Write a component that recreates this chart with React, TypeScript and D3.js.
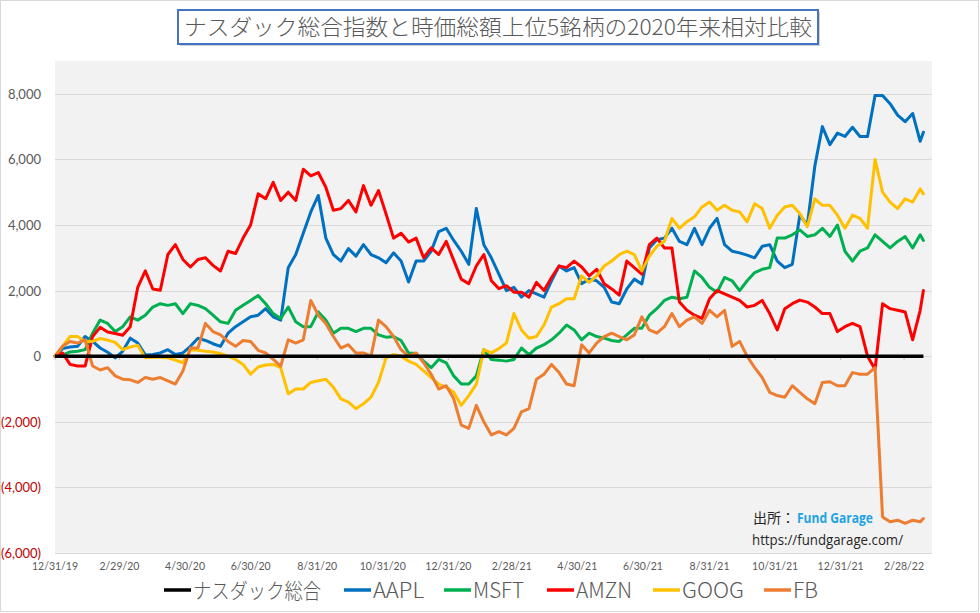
import React from "react";
import * as d3 from "d3";

const W = 980;
const H = 613;

// weekly closes from 12/31/19, last point 3/18/22
const START = "2019-12-31";
const LAST = "2022-03-18";
const STEP_DAYS = 7;

const TICK_DATES = [
  "2019-12-31", "2020-02-29", "2020-04-30", "2020-06-30", "2020-08-31", "2020-10-31", "2020-12-31",
  "2021-02-28", "2021-04-30", "2021-06-30", "2021-08-31", "2021-10-31", "2021-12-31", "2022-02-28",
];
const TICK_LABELS = [
  "12/31/19", "2/29/20", "4/30/20", "6/30/20", "8/31/20", "10/31/20", "12/31/20",
  "2/28/21", "4/30/21", "6/30/21", "8/31/21", "10/31/21", "12/31/21", "2/28/22",
];
const Y_TICKS = [8000, 6000, 4000, 2000, 0, -2000, -4000, -6000];

const NASDAQ = [0, 0];

const AAPL = [
  0, 230, 280, 300, 600, 450, 250, 120, -50, 150, 550, 400, 40, 50, 100, 200, 50, 100, 300, 550,
  480, 380, 300, 700, 900, 1050, 1200, 1250, 1450, 1200, 1100, 2700, 3100, 3750, 4400, 4900, 3600, 3100, 2900, 3280,
  3050, 3400, 3100, 3000, 2850, 3150, 2900, 2260, 2900, 2900, 3200, 3800, 3900, 3530, 3200, 2800, 4500, 3400, 3000, 2500,
  2000, 2100, 1800, 2000, 1900, 1800, 2300, 2750, 2600, 2700, 2210, 2350, 2300, 2100, 1650, 1600, 2050, 2350, 2200, 3300,
  3550, 3600, 3900, 3500, 3400, 3900, 3400, 3900, 4200, 3400, 3200, 3150, 3080, 3000, 3350, 3400, 2900, 2700, 2800, 4300,
  4000, 5800, 7000, 6450, 6800, 6700, 6980, 6700, 6700, 7950, 7950, 7700, 7350, 7150, 7400, 6550, 6830,
];

const MSFT = [
  0, 30, 130, 150, 200, 700, 1100, 1000, 750, 900, 1200, 1100, 1250, 1500, 1600, 1550, 1600, 1300, 1600, 1550,
  1450, 1250, 1050, 1000, 1400, 1550, 1700, 1850, 1600, 1300, 1150, 1500, 1050, 900, 900, 1350, 1100, 700, 850, 850,
  750, 850, 850, 650, 580, 600, 480, 100, 80, -150, -350, -100, -200, -600, -850, -850, -600, 200, -100, -120,
  -150, -100, 250, 50, 250, 350, 500, 700, 950, 800, 500, 700, 600, 550, 480, 450, 650, 850, 850, 1250,
  1450, 1700, 1800, 1750, 1800, 2600, 2400, 2100, 1950, 2400, 2300, 2000, 2300, 2550, 2650, 2700, 3600, 3600, 3700, 3850,
  3650, 3700, 3900, 3650, 4000, 3200, 2900, 3200, 3300, 3700, 3500, 3300, 3500, 3650, 3300, 3700, 3530,
];

const AMZN = [
  0, 100, -250, -300, -300, 600, 880, 740, 690, 640, 900, 2100, 2600, 2050, 2010, 3100, 3400, 2950, 2720, 2950,
  3000, 2770, 2600, 3200, 3130, 3600, 4000, 4950, 4800, 5300, 4750, 5000, 4750, 5700, 5500, 5600, 5150, 4450, 4500, 4750,
  4400, 5200, 4600, 5050, 4340, 3600, 3750, 3480, 3600, 3000, 3300, 3100, 3500, 2920, 2350, 2210, 2750, 3100, 2300, 2060,
  2150, 1950, 1950, 1800, 2250, 2000, 2400, 2750, 2700, 2900, 2720, 2450, 2650, 2210, 2050, 1860, 2900, 2700, 2500, 3400,
  3600, 3300, 3300, 1650, 1400, 1250, 1150, 1750, 2000, 1900, 1800, 1700, 1500, 1550, 1700, 1300, 800, 1450, 1600, 1710,
  1650, 1500, 1300, 1300, 750, 900, 1000, 900, 0, -400, 1600, 1450, 1400, 1350, 500, 1400, 2000,
];

const GOOG = [
  0, 300, 600, 600, 450, 450, 540, 490, 420, 200, 280, 330, -50, -30, -30, -50, -120, -200, 200, 180,
  150, 130, 80, 0, -100, -250, -550, -330, -270, -250, -350, -1150, -1000, -1000, -800, -750, -700, -950, -1300, -1400,
  -1600, -1450, -1250, -800, -50, 50, 0, -150, -250, -450, -650, -850, -950, -1100, -1500, -1200, -850, 200, 100, 230,
  400, 1300, 800, 550, 600, 950, 1500, 1600, 1750, 1750, 2450, 2250, 2450, 2750, 2900, 3100, 3200, 3100, 2600, 3050,
  3350, 3500, 4200, 3900, 4100, 4250, 4550, 4700, 4450, 4600, 4450, 4400, 4100, 4650, 4500, 3900, 4300, 4550, 4600, 4350,
  3950, 4800, 4600, 4600, 4300, 3900, 4300, 4200, 3900, 6000, 5000, 4700, 4500, 4800, 4700, 5100, 4950,
];

const FB = [
  0, 300, 450, 400, 500, -300, -420, -350, -600, -700, -720, -800, -650, -700, -650, -750, -850, -450, 250, 250,
  1000, 750, 650, 450, 300, 480, 450, 180, 100, -100, -300, 500, 400, 500, 1700, 1250, 1000, 600, 250, 350,
  100, 100, 0, 1100, 900, 600, 200, 0, 100, -200, -550, -1000, -900, -1300, -2100, -2200, -1500, -2000, -2400, -2300,
  -2400, -2200, -1700, -1600, -700, -550, -250, -500, -850, -900, 350, 100, 400, 600, 700, 600, 500, 650, 1200, 800,
  700, 900, 1300, 900, 1100, 1200, 1000, 1400, 1200, 1400, 300, 450, 0, -350, -650, -1100, -1200, -1250, -900, -1100,
  -1300, -1450, -800, -780, -900, -900, -500, -550, -550, -350, -4900, -5050, -5000, -5100, -5000, -5050, -4950,
];

const SERIES = [
  { name: "ナスダック総合", values: NASDAQ, color: "#000000" },
  { name: "AAPL", values: AAPL, color: "#0070c0" },
  { name: "MSFT", values: MSFT, color: "#00b050" },
  { name: "AMZN", values: AMZN, color: "#ff0000" },
  { name: "GOOG", values: GOOG, color: "#ffc000" },
  { name: "FB", values: FB, color: "#ed7d31" },
];

const parse = (s: string) => new Date(s + "T00:00:00Z");

function datesFor(n: number): Date[] {
  if (n === 2) return [parse(START), parse(LAST)];
  const out: Date[] = [];
  for (let i = 0; i < n - 1; i++) out.push(d3.utcDay.offset(parse(START), i * STEP_DAYS));
  out.push(parse(LAST));
  return out;
}

const plot = { left: 55, right: 932, top: 61, bottom: 553 };
const cjk = "'Noto Sans CJK JP', sans-serif";

export default function App() {
  const x = d3.scaleUtc().domain([parse(START), parse("2022-03-26")]).range([plot.left, plot.right]);
  const y = d3.scaleLinear().domain([-6000, 9000]).range([plot.bottom, plot.top]);

  const lineFor = (values: number[]) => {
    const ds = datesFor(values.length);
    return d3
      .line<number>()
      .x((_, i) => x(ds[i]))
      .y((d) => y(d))(values) as string;
  };

  // legend placements (left of marker, text width)
  const legend = [
    { x: 164, w: 128 },
    { x: 344, w: 51 },
    { x: 444, w: 51 },
    { x: 547, w: 56 },
    { x: 653, w: 62 },
    { x: 764, w: 25 },
  ];

  return (
    <svg width={W} height={H} style={{ position: "absolute", left: 0, top: 0, background: "#fff" }}>
      <rect x={0.5} y={0.5} width={W - 2} height={H - 2} fill="#fff" stroke="#d9d9d9" />

      {/* title */}
      <rect x={180} y={12} width={640} height={34} fill="#d0d0d0" />
      <rect x={178} y={10} width={640} height={34} fill="#fff" stroke="#4472c4" strokeWidth={2} />
      <text x={184} y={35} fontFamily={cjk} fontSize={22} fontWeight={300} fill="#595959"
        textLength={628} lengthAdjust="spacingAndGlyphs">
        ナスダック総合指数と時価総額上位5銘柄の2020年来相対比較
      </text>

      {/* plot area */}
      <rect x={plot.left} y={plot.top} width={plot.right - plot.left} height={plot.bottom - plot.top} fill="#f2f2f2" />
      {Y_TICKS.map((t) => (
        <line key={t} x1={plot.left} x2={plot.right} y1={Math.round(y(t)) + 0.5} y2={Math.round(y(t)) + 0.5}
          stroke="#d9d9d9" strokeWidth={1} />
      ))}
      {Y_TICKS.map((t) => (
        <text key={"l" + t} x={41} y={y(t) + 5} textAnchor="end" fontFamily="Lato, sans-serif" fontSize={13}
          fill={t < 0 ? "#c00000" : "#595959"}>
          {t < 0 ? `(${d3.format(",")(-t)})` : d3.format(",")(t)}
        </text>
      ))}
      {TICK_DATES.map((d, i) => (
        <g key={d}>
          <line x1={x(parse(d))} x2={x(parse(d))} y1={y(0)} y2={y(0) + 4} stroke="#bfbfbf" />
          <text x={x(parse(d))} y={570} textAnchor="middle" fontFamily="Lato, sans-serif" fontSize={10.5} fill="#595959">
            {TICK_LABELS[i]}
          </text>
        </g>
      ))}

      {/* series */}
      {SERIES.slice(1).map((s) => (
        <path key={s.name} d={lineFor(s.values)} fill="none" stroke={s.color} strokeWidth={3}
          strokeLinejoin="round" strokeLinecap="round" />
      ))}
      <path d={lineFor(NASDAQ)} fill="none" stroke="#000" strokeWidth={3.5} />

      {/* source */}
      <text x={753} y={523} fontFamily={cjk} fontSize={14} fill="#262626">出所：</text>
      <text x={797} y={523} fontFamily="'Open Sans', sans-serif" fontSize={13.5} fontWeight={700} fill="#1ea3e3"
        textLength={76} lengthAdjust="spacingAndGlyphs">Fund Garage</text>
      <text x={752} y={545} fontFamily="'Open Sans', sans-serif" fontSize={14} fill="#262626"
        textLength={151} lengthAdjust="spacingAndGlyphs">https://fundgarage.com/</text>

      {/* legend */}
      {SERIES.map((s, i) => (
        <g key={"lg" + s.name}>
          <line x1={legend[i].x} x2={legend[i].x + 27} y1={590} y2={590} stroke={s.color} strokeWidth={3.5} />
          <text x={legend[i].x + 29} y={598} fontFamily={cjk} fontSize={21} fontWeight={300} fill="#595959"
            textLength={legend[i].w} lengthAdjust="spacingAndGlyphs">
            {s.name}
          </text>
        </g>
      ))}
    </svg>
  );
}
